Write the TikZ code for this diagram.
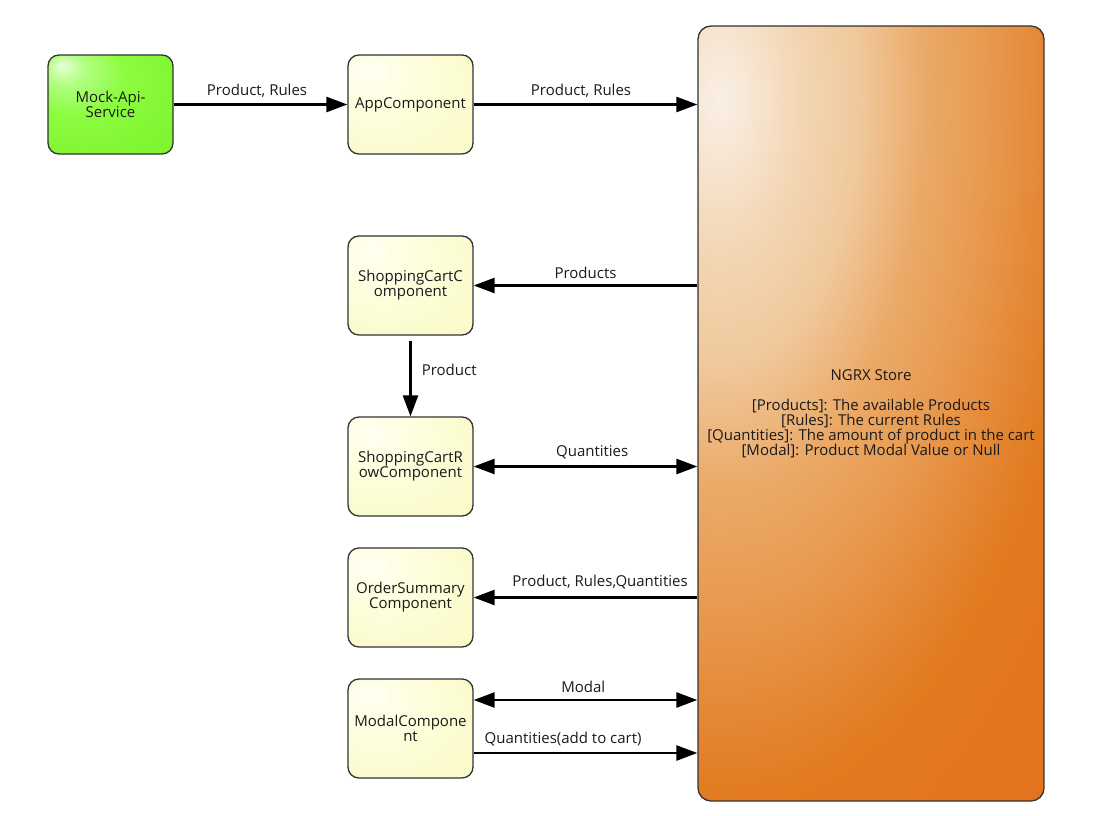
\documentclass[tikz,border=0pt]{standalone}
\usepackage{fontspec}
\setmainfont{Open Sans}
\usetikzlibrary{arrows.meta,calc}

\definecolor{edge}{HTML}{333333}
\definecolor{txt}{HTML}{1A1A1A}

% soft highlight near the upper left corner of each box
\definecolor{cpA}{HTML}{FFFFF2}
\definecolor{cpB}{HTML}{FEFEE0}
\definecolor{cpC}{HTML}{FBFBCE}
\definecolor{cpD}{HTML}{F7F7C0}
\pgfdeclareradialshading{compshade}{\pgfpoint{-18bp}{18bp}}{%
  color(0bp)=(cpA);
  color(15bp)=(cpB);
  color(35bp)=(cpC);
  color(70bp)=(cpD)}
\definecolor{mkA}{HTML}{E8FFD8}
\definecolor{mkB}{HTML}{B0FF80}
\definecolor{mkC}{HTML}{8CFC40}
\definecolor{mkD}{HTML}{80F530}
\definecolor{mkE}{HTML}{78EE28}
\pgfdeclareradialshading{mockshade}{\pgfpoint{-20bp}{20bp}}{%
  color(0bp)=(mkA);
  color(8bp)=(mkB);
  color(20bp)=(mkC);
  color(40bp)=(mkD);
  color(70bp)=(mkE)}

% store: pale glow near the top left fading into deep orange
\definecolor{stA}{HTML}{FAF0E6}
\definecolor{stB}{HTML}{F3D6B4}
\definecolor{stC}{HTML}{F0C89C}
\definecolor{stD}{HTML}{EBAA68}
\definecolor{stE}{HTML}{E89A50}
\definecolor{stF}{HTML}{E58A38}
\definecolor{stG}{HTML}{E27A20}
\definecolor{stH}{HTML}{E27420}
\definecolor{stI}{HTML}{E07018}
\pgfdeclareradialshading{storeshade}{\pgfpointorigin}{%
  color(0bp)=(stA);
  color(4bp)=(stB);
  color(7bp)=(stC);
  color(10.2bp)=(stD);
  color(13.3bp)=(stE);
  color(15.8bp)=(stF);
  color(18.5bp)=(stG);
  color(23bp)=(stH);
  color(40bp)=(stI)}

\tikzset{
  box/.style={draw=edge, line width=1.3pt, rounded corners=11pt,
    minimum width=125pt, minimum height=99pt, inner sep=0pt,
    align=center, text=txt, font=\fontsize{15pt}{15pt}\selectfont},
  comp/.style={box, shading=compshade},
  mock/.style={box, shading=mockshade},
  store/.style={box, minimum width=346pt, minimum height=775pt,
    rounded corners=13pt,
    path picture={
      \coordinate (glow) at ($(path picture bounding box.north west)+(22,74)$);
      \shade[shading=storeshade]
        ($(glow)+(-500,-950)$) rectangle ($(glow)+(500,950)$);
    }},
  flow/.style={line width=2.6pt, draw=black,
    -{Triangle[length=21pt,width=15pt]}},
  both/.style={flow, {Triangle[length=21pt,width=15pt]}-{Triangle[length=21pt,width=15pt]}},
  lbl/.style={text=txt, font=\fontsize{15pt}{15pt}\selectfont, inner sep=0pt},
}

\begin{document}
\begin{tikzpicture}[x=1pt, y=-1pt]
\useasboundingbox (0,0) rectangle (1113,816);

\node[mock]  (mock)  at (110.5,104.5) {Mock-Api-\\Service};
\node[comp]  (app)   at (410.5,104.5) {AppComponent};
\node[comp]  (cart)  at (410.5,285.5) {ShoppingCartC\\omponent};
\node[comp]  (row)   at (410.5,466.5) {ShoppingCartR\\owComponent};
\node[comp]  (order) at (410.5,597.5) {OrderSummary\\Component};
\node[comp]  (modal) at (410.5,728.5) {ModalCompone\\nt};
\node[store] (store) at (871,413.5) {NGRX Store\\[15pt]
  {[Products]: The available Products}\\
  {[Rules]: The current Rules}\\
  {[Quantities]: The amount of product in the cart}\\
  {[Modal]: Product Modal Value or Null}};

% data flowing between the services, components and the store
\draw[flow] (mock.east) -- (app.west)
  node[lbl, pos=0.48, above=6pt] {Product, Rules};
\draw[flow] (app.east) -- (app.east -| store.west)
  node[lbl, pos=0.48, above=6pt] {Product, Rules};
\draw[flow] (store.west |- cart.east) -- (cart.east)
  node[lbl, pos=0.5, above=6pt] {Products};
\draw[flow, shorten <=5pt] (cart.south) -- (row.north)
  node[lbl, pos=0.42, right=10pt] {Product};
\draw[both] (row.east) -- (row.east -| store.west)
  node[lbl, pos=0.53, above=6pt] {Quantities};
\draw[flow] (store.west |- order.east) -- (order.east)
  node[lbl, pos=0.435, above=7pt] {Product, Rules,Quantities};

% the modal component has two links of its own to the store
\coordinate (mtop) at ([yshift=28.5pt]modal.east);
\coordinate (mbot) at ([yshift=-24.5pt]modal.east);
\draw[both] (mtop) -- (mtop -| store.west)
  node[lbl, pos=0.49, above=6pt] {Modal};
\draw[flow] (mbot) -- (mbot -| store.west)
  node[lbl, pos=0.4, above=6pt] {Quantities(add to cart)};
\end{tikzpicture}
\end{document}
